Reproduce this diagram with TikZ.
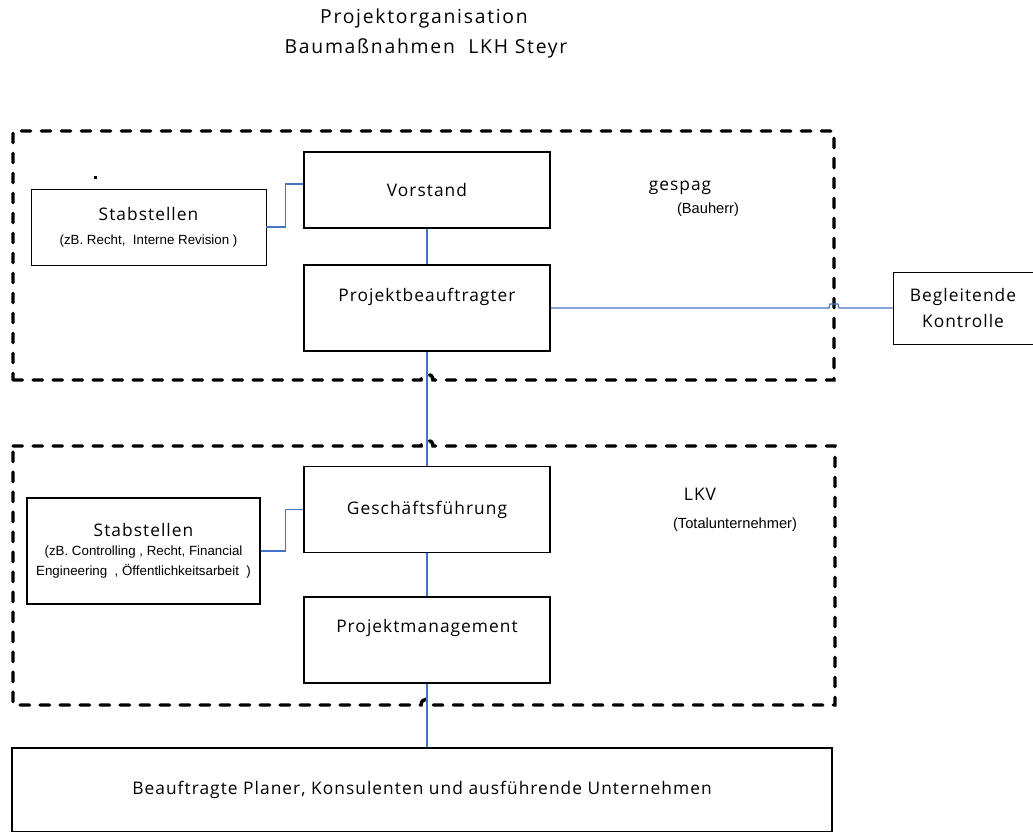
\documentclass[tikz,border=0pt]{standalone}
\usepackage{fontspec}
\setmainfont{Liberation Sans}
\newfontfamily\spacedfont[LetterSpace=6]{Open Sans}
\newfontfamily\titlefont[LetterSpace=9]{Open Sans}
\definecolor{linkblue}{HTML}{4472C4}
\newcommand\lblfont{\spacedfont\fontsize{13}{19}\selectfont}
\newcommand\notefont{\fontsize{10}{15}\selectfont}
\begin{document}
\begin{tikzpicture}[x=0.75pt,y=-0.75pt,
  box/.style={draw,line width=1.2pt,inner sep=0pt,font=\lblfont},
  thinbox/.style={draw,line width=0.6pt,inner sep=0pt,align=center},
  boxsize/.style 2 args={minimum width=#1*0.75pt,minimum height=#2*0.75pt},
  lbl/.style={font=\lblfont},
  title/.style={font=\titlefont\fontsize{14.5}{16}\selectfont},
  side/.style={font=\fontsize{11}{13}\selectfont},
  conn/.style={draw=linkblue,line width=0.9pt},
  zone/.style={line width=2.6pt,line cap=round,dash pattern=on 7pt off 8pt}]
\useasboundingbox (0,0) rectangle (1033,832);
% title
\node[title] (ttl1) at (424,18) {Projektorganisation};
\node[title] (ttl2) at (426,48) {Baumaßnahmen\ \ LKH Steyr};
% zones
\draw[zone] (13,380) -- (421,380) .. controls (421,372) and (433,372) .. (433,380) -- (834,380) -- (834,131) -- (13,131) -- cycle;
\draw[zone] (13,446) -- (421,446) .. controls (421,438) and (433,438) .. (433,446) -- (835,446) -- (835,705) -- (433,705) .. controls (433,697) and (421,697) .. (421,705) -- (13,705) -- cycle;
\fill (94,176) rectangle (96.5,178.5);
\node[lbl] (gespag) at (680,188) {gespag};
\node[side] (bauherr) at (708,210) {(Bauherr)};
\node[lbl] (lkv) at (700,494) {LKV};
\node[side] (tu) at (735,525) {(Totalunternehmer)};
% boxes
\node[box,boxsize={246}{76}] (vorstand) at (427,190) {Vorstand};
\node[box,boxsize={246}{86},label={[lbl,yshift=8.25pt]center:Projektbeauftragter}] (beauftr) at (427,308) {};
\node[box,boxsize={246}{86}] (gf) at (427,509.5) {Geschäftsführung};
\node[box,boxsize={246}{86},label={[lbl,yshift=9pt]center:Projektmanagement}] (pm) at (427,640) {};
\node[thinbox,font=\fontsize{10}{18}\selectfont,boxsize={235}{76}] (stab1) at (148.5,227) {{\lblfont Stabstellen}\\(zB. Recht,\ \ Interne Revision )};
\node[box,font=\fontsize{10}{15}\selectfont,align=center,boxsize={233}{106}] (stab2) at (143.5,551) {{\lblfont Stabstellen}\\[-1pt](zB. Controlling , Recht, Financial\\Engineering\ \ , Öffentlichkeitsarbeit\ \ )};
\node[thinbox,font=\lblfont,boxsize={140}{72}] (beg) at (963,308) {Begleitende\\Kontrolle};
\node[thinbox,line width=0.9pt,font=\lblfont,boxsize={820}{84}] (firms) at (422,790) {Beauftragte Planer, Konsulenten und ausführende Unternehmen};
% connectors
\draw[conn] (vorstand.south) -- (beauftr.north);
\draw[conn] (beauftr.south) -- (gf.north);
\draw[conn] (gf.south) -- (pm.north);
\draw[conn] (pm.south) -- (pm.south |- firms.north);
\draw[conn] (stab1.east) -- ++(19,0) |- ([yshift=4.5pt]vorstand.west);
\draw[conn] (stab2.east) -- ++(25,0) |- (gf.west);
\draw[conn] (beauftr.east) -- (829,308) -- (830,304) -- (838,304) -- (839,308) -- (beg.west);
\end{tikzpicture}
\end{document}
